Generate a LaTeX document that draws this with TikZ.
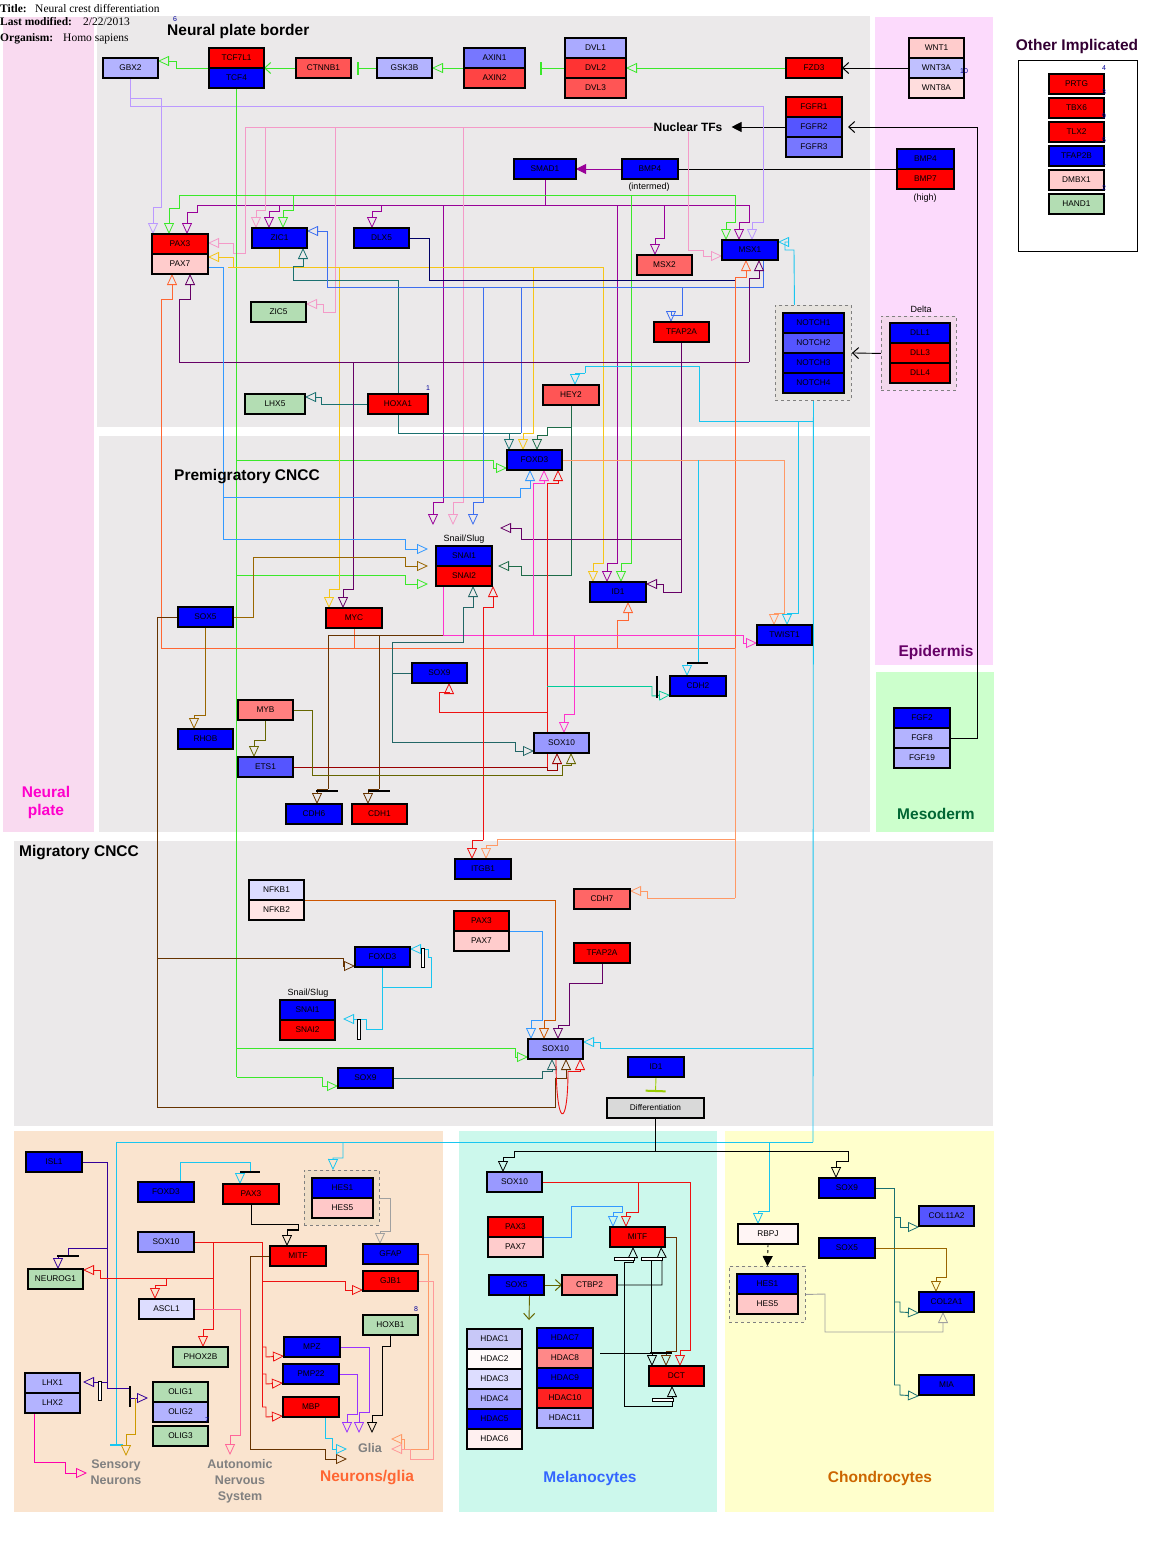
\documentclass[tikz,border=0pt]{standalone}
\usepackage{fontspec}
\setmainfont{Liberation Sans}
\newfontfamily\hdrfont{Liberation Serif}
\usetikzlibrary{arrows.meta}
\pgfdeclarelayer{bg}
\pgfdeclarelayer{lines}
\pgfsetlayers{bg,lines,main}
% fills
\definecolor{fB}{HTML}{0000FF}
\definecolor{fR}{HTML}{FF0000}
\definecolor{fS}{HTML}{FF5555}
\definecolor{fLB}{HTML}{B3B3FF}
\definecolor{fMB}{HTML}{5555FF}
\definecolor{fMBb}{HTML}{7777FF}
\definecolor{fPk}{HTML}{FFCCCC}
\definecolor{fGr}{HTML}{B3DDB3}
\definecolor{fSx}{HTML}{9999FF}
\definecolor{fMsx}{HTML}{FF6666}
\definecolor{fDvl}{HTML}{AAAAFF}
\definecolor{fDvlb}{HTML}{FF3333}
\definecolor{fAx}{HTML}{FF4444}
\definecolor{fWa}{HTML}{C0C0FF}
\definecolor{fWb}{HTML}{FFDDDD}
\definecolor{fMyb}{HTML}{FF7F7F}
\definecolor{fNa}{HTML}{DDDDFF}
\definecolor{fNb}{HTML}{FFE5E5}
\definecolor{fCt}{HTML}{FF8888}
\definecolor{fHes}{HTML}{FFC8C8}
\definecolor{fRb}{HTML}{FFF5F5}
\definecolor{fHa}{HTML}{C8C8F8}
\definecolor{fHb}{HTML}{FFFAFA}
\definecolor{fHd}{HTML}{B0B0FF}
\definecolor{fHf}{HTML}{FFF0F0}
\definecolor{fHj}{HTML}{FF2222}
\definecolor{fDiff}{HTML}{D9D9D9}
% regions
\definecolor{rNP}{HTML}{F9DAF0}
\definecolor{rGray}{HTML}{EBE9EA}
\definecolor{rEpi}{HTML}{FCDAFC}
\definecolor{rMes}{HTML}{CCFFCC}
\definecolor{rPeach}{HTML}{FAE4CF}
\definecolor{rMint}{HTML}{CCF8EC}
\definecolor{rYel}{HTML}{FFFFCC}
\definecolor{gNotch}{HTML}{E6E3DE}
\definecolor{gDelta}{HTML}{F3D7EC}
\definecolor{gHesN}{HTML}{F0DEC6}
\definecolor{gHesC}{HTML}{F8F6CC}
% labels
\definecolor{lNP}{HTML}{FF00CC}
\definecolor{lEpi}{HTML}{660066}
\definecolor{lMes}{HTML}{006633}
\definecolor{lNG}{HTML}{FF6633}
\definecolor{lMel}{HTML}{3366FF}
\definecolor{lCh}{HTML}{CC6600}
\definecolor{lOth}{HTML}{330033}
\definecolor{lGray}{HTML}{808080}
\definecolor{numc}{HTML}{000099}
% lines
\definecolor{kG}{HTML}{3BE82A}
\definecolor{kP}{HTML}{990099}
\definecolor{kDP}{HTML}{660066}
\definecolor{kLav}{HTML}{BB99FF}
\definecolor{kPk}{HTML}{F49AC8}
\definecolor{kY}{HTML}{F5C518}
\definecolor{kT}{HTML}{1A7070}
\definecolor{kDG}{HTML}{1E6B48}
\definecolor{kC}{HTML}{19C6F0}
\definecolor{kB}{HTML}{3D6EF0}
\definecolor{kBb}{HTML}{3399FF}
\definecolor{kNv}{HTML}{000066}
\definecolor{kO}{HTML}{FF6633}
\definecolor{kS}{HTML}{FF9966}
\definecolor{kM}{HTML}{FF33CC}
\definecolor{kR}{HTML}{EE1111}
\definecolor{kDR}{HTML}{990000}
\definecolor{kSG}{HTML}{00CC99}
\definecolor{kDT}{HTML}{226666}
\definecolor{kBr}{HTML}{996600}
\definecolor{kDB}{HTML}{663300}
\definecolor{kOl}{HTML}{666600}
\definecolor{kI}{HTML}{330099}
\definecolor{kGo}{HTML}{CC9900}
\definecolor{kV}{HTML}{9933FF}
\definecolor{kGr}{HTML}{A0A0A0}
\definecolor{kNF}{HTML}{CC5500}
\definecolor{kYG}{HTML}{99CC00}
\definecolor{kPkN}{HTML}{FF6699}
\definecolor{kMg}{HTML}{FF00AA}
\definecolor{kPkG}{HTML}{FF9999}
\tikzset{
  gene/.style={draw=black,line width=1.1pt,minimum width=55pt,minimum height=20pt,inner sep=0pt,outer sep=0pt,anchor=north west,font=\fontsize{8.3}{9}\selectfont},
  ln/.style={line width=0.9pt},
  act/.style={-{Triangle[open,length=11pt,width=10pt,line width=0.8pt]}},
  inh/.style={-{Bar[width=13pt,line width=2pt]}},
  barb/.style={-{Straight Barb[length=6pt,width=11pt,line width=1pt]}},
  fil/.style={-{Triangle[length=10pt,width=10pt]}},
  grp/.style={draw=gray,dashed,line width=0.9pt,anchor=north west,inner sep=0pt},
  rlab/.style={font=\fontsize{15.5}{18}\selectfont\bfseries,inner sep=0pt,align=center},
  clab/.style={font=\fontsize{12.5}{16}\selectfont\bfseries,text=lGray,inner sep=0pt,align=center},
  slab/.style={font=\fontsize{9}{10}\selectfont,inner sep=0pt},
  num/.style={font=\fontsize{7}{7}\selectfont,text=numc,inner sep=0pt},
  hdr/.style={anchor=base west,inner sep=0pt,font=\hdrfont\fontsize{11.5}{12}\selectfont},
}
\newcommand\genebox[6][55]{\node[gene,minimum width=#1pt,fill=#5] (#2) at (#3,#4) {#6};}
\begin{document}
\begin{tikzpicture}[x=1pt,y=-1pt]
\useasboundingbox (0,0) rectangle (1174,1542);
\begin{pgfonlayer}{bg}
\fill[white] (0,0) rectangle (1174,1542);
\fill[rNP] (3,17) rectangle (94,832);
\fill[rGray] (97,16) rectangle (870,427);
\fill[rGray] (99,436) rectangle (870,832);
\fill[rEpi] (875,17) rectangle (993,665);
\fill[rMes] (876,672) rectangle (994,832);
\fill[rGray] (14,841) rectangle (993,1126);
\fill[rPeach] (14,1131) rectangle (443,1512);
\fill[rMint] (459,1131) rectangle (717,1512);
\fill[rYel] (725,1131) rectangle (994,1512);
\draw[line width=1pt,fill=white] (1018,60) rectangle (1137,251);
\end{pgfonlayer}

% header
\node[hdr] (t1) at (0,12) {\textbf{Title:}};
\node[hdr] (t2) at (35,12) {Neural crest differentiation};
\node[hdr] (m1) at (0,25) {\textbf{Last modified:}};
\node[hdr] (m2) at (83,25) {2/22/2013};
\node[hdr] (o1) at (0,41) {\textbf{Organism:}};
\node[hdr] (o2) at (63,41) {Homo sapiens};

% region labels
\node[rlab,anchor=west] (lnpb) at (167,31) {Neural plate border};
\node[rlab,anchor=west] (lpre) at (174,477) {Premigratory CNCC};
\node[rlab,anchor=west] (lmig) at (19,853) {Migratory CNCC};
\node[rlab,text=lOth] (loth) at (1077,46) {Other Implicated};
\node[rlab,text=lNP] (lnp) at (46,802) {Neural\\plate};
\node[rlab,text=lEpi] (lepi) at (936,652) {Epidermis};
\node[rlab,text=lMes] (lmes) at (936,814) {Mesoderm};
\node[rlab,text=lNG] (lng) at (367,1478) {Neurons/glia};
\node[rlab,text=lMel] (lmel) at (590,1478) {Melanocytes};
\node[rlab,text=lCh] (lch) at (880,1478) {Chondrocytes};
\node[clab] (lsens) at (116,1472) {Sensory\\Neurons};
\node[clab] (lauto) at (240,1481) {Autonomic\\Nervous\\System};
\node[clab] (lglia) at (370,1448) {Glia};
\node[font=\fontsize{12}{14}\selectfont\bfseries,inner sep=0pt] (ntf) at (688,127) {Nuclear TFs};
\node[slab] (lint) at (649,187) {(intermed)};
\node[slab] (lhigh) at (925,198) {(high)};
\node[slab] (ldelta) at (921,309) {Delta};
\node[slab] (lsnp) at (464,539) {Snail/Slug};
\node[slab] (lsnm) at (308,993) {Snail/Slug};
\coordinate (gliaTop) at (370,1433);
\coordinate (gliaL) at (347,1454);
\coordinate (gliaR) at (391,1444);
\coordinate (autoTop) at (240,1455);
\coordinate (sensTop) at (116,1456);
\coordinate (sensL) at (87,1473);
\coordinate (hdacpt) at (529,1320);

% groups
\node[grp,fill=gNotch,minimum width=76pt,minimum height=95pt] (notchgrp) at (775,305) {};
\node[grp,fill=gDelta,minimum width=75pt,minimum height=74pt] (deltagrp) at (881,316) {};
\node[grp,fill=gHesN,minimum width=75pt,minimum height=55pt] (hesgrpN) at (304,1170) {};
\node[grp,fill=gHesC,minimum width=76pt,minimum height=56pt] (hesgrpC) at (729,1266) {};

% ---- Neural plate border genes
\genebox{gbx}{103}{58}{fLB}{GBX2}
\genebox{tcfa}{209}{48}{fR}{TCF7L1}
\genebox{tcfb}{209}{68}{fB}{TCF4}
\genebox{ctnnb}{296}{58}{fS}{CTNNB1}
\genebox{gsk}{377}{58}{fLB}{GSK3B}
\genebox[61]{axina}{464}{48}{fMBb}{AXIN1}
\genebox[61]{axinb}{464}{68}{fAx}{AXIN2}
\genebox[61]{dvla}{565}{38}{fDvl}{DVL1}
\genebox[61]{dvlb}{565}{58}{fDvlb}{DVL2}
\genebox[61]{dvlc}{565}{78}{fS}{DVL3}
\genebox[56]{fzd}{786}{58}{fR}{FZD3}
\genebox{wnta}{909}{38}{fPk}{WNT1}
\genebox{wntb}{909}{58}{fWa}{WNT3A}
\genebox{wntc}{909}{78}{fWb}{WNT8A}
\genebox[56]{fgfra}{786}{97}{fR}{FGFR1}
\genebox[56]{fgfrb}{786}{117}{fMB}{FGFR2}
\genebox[56]{fgfrc}{786}{137}{fMBb}{FGFR3}
\genebox[56]{bmp}{622}{159}{fB}{BMP4}
\genebox[62]{smad}{514}{159}{fB}{SMAD1}
\genebox[57]{bmphia}{897}{149}{fB}{BMP4}
\genebox[57]{bmphib}{897}{169}{fR}{BMP7}
\genebox[56]{pax3}{152}{234}{fR}{PAX3}
\genebox[56]{pax7}{152}{254}{fPk}{PAX7}
\genebox{zic1}{252}{228}{fB}{ZIC1}
\genebox{dlx5}{354}{228}{fB}{DLX5}
\genebox{msx2}{637}{255}{fMsx}{MSX2}
\genebox[56]{msx1}{722}{240}{fB}{MSX1}
\genebox{zic5}{251}{302}{fGr}{ZIC5}
\genebox{tfap}{654}{322}{fR}{TFAP2A}
\genebox[61]{notcha}{783}{313}{fB}{NOTCH1}
\genebox[61]{notchb}{783}{333}{fMB}{NOTCH2}
\genebox[61]{notchc}{783}{353}{fB}{NOTCH3}
\genebox[61]{notchd}{783}{373}{fB}{NOTCH4}
\genebox[60]{dlla}{890}{323}{fB}{DLL1}
\genebox[60]{dllb}{890}{343}{fR}{DLL3}
\genebox[60]{dllc}{890}{363}{fR}{DLL4}
\genebox[60]{lhx5}{245}{394}{fGr}{LHX5}
\genebox[60]{hoxa}{368}{394}{fR}{HOXA1}
\genebox[56]{hey2}{543}{385}{fS}{HEY2}
\genebox[56]{fgfa}{894}{708}{fB}{FGF2}
\genebox[56]{fgfb}{894}{728}{fLB}{FGF8}
\genebox[56]{fgfc}{894}{748}{fLB}{FGF19}
% ---- premigratory
\genebox{foxd3}{507}{450}{fB}{FOXD3}
\genebox[56]{snai1}{436}{546}{fB}{SNAI1}
\genebox[56]{snai2}{436}{566}{fR}{SNAI2}
\genebox[56]{id1}{590}{582}{fB}{ID1}
\genebox{twist}{757}{625}{fB}{TWIST1}
\genebox{sox9p}{412}{663}{fB}{SOX9}
\genebox[56]{cdh2}{670}{676}{fB}{CDH2}
\genebox{sox10p}{534}{733}{fSx}{SOX10}
\genebox{sox5}{178}{607}{fB}{SOX5}
\genebox[56]{myc}{326}{608}{fR}{MYC}
\genebox{rhob}{178}{729}{fB}{RHOB}
\genebox{myb}{238}{700}{fMyb}{MYB}
\genebox{ets1}{238}{757}{fMB}{ETS1}
\genebox[56]{cdh6}{286}{804}{fB}{CDH6}
\genebox{cdh1}{352}{804}{fR}{CDH1}
% ---- migratory
\genebox[56]{itgb}{455}{859}{fB}{ITGB1}
\genebox[56]{cdh7}{574}{889}{fMsx}{CDH7}
\genebox{nfkba}{249}{880}{fNa}{NFKB1}
\genebox{nfkbb}{249}{900}{fNb}{NFKB2}
\genebox{paxma}{454}{911}{fR}{PAX3}
\genebox{paxmb}{454}{931}{fPk}{PAX7}
\genebox[56]{tfapm}{574}{943}{fR}{TFAP2A}
\genebox{foxd3m}{355}{947}{fB}{FOXD3}
\genebox{snaima}{280}{1000}{fB}{SNAI1}
\genebox{snaimb}{280}{1020}{fR}{SNAI2}
\genebox{sox10m}{528}{1039}{fSx}{SOX10}
\genebox{sox9m}{338}{1068}{fB}{SOX9}
\genebox[56]{id1m}{628}{1057}{fB}{ID1}
\genebox[97]{diff}{607}{1098}{fDiff}{Differentiation}
% ---- neurons/glia
\genebox[56]{isl1}{26}{1152}{fB}{ISL1}
\genebox[56]{foxd3n}{138}{1182}{fB}{FOXD3}
\genebox[56]{pax3n}{223}{1184}{fR}{PAX3}
\genebox[61]{hesna}{312}{1178}{fB}{HES1}
\genebox[61]{hesnb}{312}{1198}{fHes}{HES5}
\genebox[56]{sox10n}{138}{1232}{fSx}{SOX10}
\genebox[56]{mitfn}{270}{1246}{fR}{MITF}
\genebox{gfap}{363}{1244}{fB}{GFAP}
\genebox{gjb}{363}{1271}{fR}{GJB1}
\genebox{neurog}{28}{1269}{fGr}{NEUROG1}
\genebox{ascl}{139}{1299}{fNa}{ASCL1}
\genebox{hoxb}{363}{1315}{fGr}{HOXB1}
\genebox{phox}{173}{1347}{fGr}{PHOX2B}
\genebox[56]{mpz}{284}{1337}{fB}{MPZ}
\genebox[56]{pmp}{283}{1364}{fB}{PMP22}
\genebox[56]{mbp}{283}{1397}{fR}{MBP}
\genebox{lhxa}{25}{1373}{fLB}{LHX1}
\genebox{lhxb}{25}{1393}{fLB}{LHX2}
\genebox{oliga}{153}{1382}{fGr}{OLIG1}
\genebox{oligb}{153}{1402}{fLB}{OLIG2}
\genebox{oligc}{153}{1426}{fGr}{OLIG3}
% ---- melanocytes
\genebox{sox10mel}{487}{1172}{fSx}{SOX10}
\genebox{paxmela}{488}{1217}{fR}{PAX3}
\genebox{paxmelb}{488}{1237}{fPk}{PAX7}
\genebox{mitfm}{610}{1227}{fR}{MITF}
\genebox{sox5m}{489}{1275}{fB}{SOX5}
\genebox{ctbp}{562}{1275}{fCt}{CTBP2}
\genebox{hdaca}{467}{1329}{fHa}{HDAC1}
\genebox{hdacb}{467}{1349}{fHb}{HDAC2}
\genebox{hdacc}{467}{1369}{fNa}{HDAC3}
\genebox{hdacd}{467}{1389}{fHd}{HDAC4}
\genebox{hdace}{467}{1409}{fB}{HDAC5}
\genebox{hdacf}{467}{1429}{fHf}{HDAC6}
\genebox[56]{hdacg}{537}{1328}{fB}{HDAC7}
\genebox[56]{hdach}{537}{1348}{fCt}{HDAC8}
\genebox[56]{hdaci}{537}{1368}{fB}{HDAC9}
\genebox[56]{hdacj}{537}{1388}{fHj}{HDAC10}
\genebox[56]{hdack}{537}{1408}{fHd}{HDAC11}
\genebox{dct}{649}{1366}{fR}{DCT}
% ---- chondrocytes
\genebox[56]{sox9c}{819}{1178}{fB}{SOX9}
\genebox{col11}{919}{1206}{fMB}{COL11A2}
\genebox[60]{rbpj}{738}{1224}{fRb}{RBPJ}
\genebox[56]{sox5c}{819}{1238}{fB}{SOX5}
\genebox[61]{hesca}{737}{1274}{fB}{HES1}
\genebox[61]{hescb}{737}{1294}{fHes}{HES5}
\genebox{col2}{919}{1292}{fB}{COL2A1}
\genebox{mia}{919}{1375}{fB}{MIA}
% ---- other implicated
\genebox{prtg}{1049}{74}{fR}{PRTG}
\genebox{tbx}{1049}{98}{fR}{TBX6}
\genebox{tlx}{1049}{122}{fR}{TLX2}
\genebox{tfapb}{1049}{146}{fB}{TFAP2B}
\genebox{dmbx}{1049}{170}{fPk}{DMBX1}
\genebox{hand}{1049}{194}{fGr}{HAND1}

% numbers (drawn over the boxes)
\node[num] (n6) at (175,19) {6};
\node[num] (n1) at (428,388) {1};
\node[num] (n10) at (964,71) {10};
\node[num] (n8) at (416,1309) {8};
\node[num] (n7) at (207,1420) {7};
\node[num] (o4) at (1104,68) {4};
\node[num] (o3) at (1104,92) {3};
\node[num] (o9) at (1104,116) {9};
\node[num] (o5) at (1104,140) {5};
\node[num] (o1n) at (1104,163) {1};
\node[num] (o2n) at (1104,188) {2};

\begin{pgfonlayer}{lines}
% Wnt chain
\draw[ln,kG,act] (tcfa.south west) -- (176,68) -- (176,61) -- ([yshift=-3pt]gbx.north east);
\draw[ln,kG,barb] (ctnnb.west) -- (tcfa.south east);
\draw[ln,kG,inh] (gsk.west) -- ([xshift=6pt]ctnnb.east);
\draw[ln,kG,act] (axina.south west) -- (gsk.east);
\draw[ln,kG,inh] (dvlb.west) -- ([xshift=15pt]axina.south east);
\draw[ln,kG,act] (fzd.west) -- (dvlb.east);
\draw[ln,barb] (wntb.west) -- (fzd.east);
\draw[ln,barb] (fgfb.east) -- (977,738) -- (977,127) -- ([xshift=6pt]fgfrb.east);
\draw[ln,fil] (fgfrb.west) -- ([xshift=9pt]ntf.east);
\draw[ln] (bmphia.south west) -- (bmp.east);
\draw[ln,kP,fil] (bmp.west) -- (smad.east);
\draw[ln,barb] (deltagrp.west) -- (notchgrp.east);
% SMAD1
\draw[ln,kP] (smad.south) -- (545,205);
\draw[ln,kP] (197,205) -- (749,205);
\draw[ln,kP,act] (197,205) -- (197,212) -- (187,212) -- ([xshift=35pt]pax3.north west);
\draw[ln,kP,act] (279,205) -- (279,211) -- (269,211) -- ([xshift=17pt]zic1.north west);
\draw[ln,kP,act] (381,205) -- (381,211) -- (372,211) -- ([xshift=18pt]dlx5.north west);
\draw[ln,kP,act] (664,205) -- (664,238) -- (655,238) -- ([xshift=18pt]msx2.north west);
\draw[ln,kP,act] (749,205) -- (749,222) -- (739,222) -- ([xshift=17pt]msx1.north west);
\draw[ln,kP,act] (443,205) -- (443,502) -- (433,502) -- ([shift={(-3pt,21pt)}]snai1.north west);
\draw[ln,kP,act] (617,205) -- (617,563) -- (607,563) -- ([xshift=17pt]id1.north west);
% GBX2
\draw[ln,kLav,act] (gbx.south) -- (130.5,106) -- (763,106) -- (763,222) -- (752,222) -- ([xshift=30pt]msx1.north west);
\draw[ln,kLav,act] (130.5,98) -- (161,98) -- (161,207) -- (153,207) -- ([xshift=1pt]pax3.north west);
% Nuclear TFs
\draw[ln,kPk] (ntf.west) -- (245,127);
\draw[ln,kPk,act] (245,127) -- (245,253) -- (233,253) -- (233,243) -- ([yshift=-9pt]pax3.north east);
\draw[ln,kPk,act] (265,127) -- (265,210) -- (256,210) -- ([xshift=4pt]zic1.north west);
\draw[ln,kPk,act] (335,127) -- (335,312) -- (323,312) -- (323,304) -- ([yshift=-2pt]zic5.north east);
\draw[ln,kPk,act] (463,127) -- (463,502) -- (453,502) -- ([shift={(17pt,21pt)}]snai1.north west);
\draw[ln,kPk,act] (ntf.south) -- (688,250) -- (703,250) -- (703,256) -- ([yshift=4pt]msx1.south west);
% TCF4 green
\draw[ln,kG] (tcfb.south) -- (236.5,1077);
\draw[ln,kG] (179,195) -- (735,195);
\draw[ln,kG,act] (179,195) -- (179,208) -- (169,208) -- ([xshift=17pt]pax3.north west);
\draw[ln,kG,act] (293,195) -- (293,210) -- (283,210) -- ([xshift=31pt]zic1.north west);
\draw[ln,kG,act] (735,195) -- (735,222) -- (726,222) -- ([xshift=4pt]msx1.north west);
\draw[ln,kG,act] (631,195) -- (631,563) -- (621,563) -- ([xshift=31pt]id1.north west);
\draw[ln,kG,act] (236.5,460) -- (493,460) -- (493,468) -- ([yshift=2pt]foxd3.south west);
\draw[ln,kG,act] (236.5,575) -- (405,575) -- (405,584) -- ([shift={(-8pt,2pt)}]snai2.south west);
\draw[ln,kG,act] (236.5,1077) -- (322,1077) -- (322,1086) -- ([yshift=2pt]sox9m.south west);
\draw[ln,kG,act] (236.5,1048) -- (515,1048) -- (515,1057) -- ([yshift=2pt]sox10m.south west);
% ZIC1 yellow
\draw[ln,kY] (zic1.south) -- (279.5,267);
\draw[ln,kY] (228,267) -- (603,267);
\draw[ln,kY,act] (233,267) -- (233,257) -- ([yshift=-3pt]pax7.north east);
\draw[ln,kY,act] (339,267) -- (339,589) -- (329,589) -- ([xshift=3pt]myc.north west);
\draw[ln,kY,act] (533,267) -- (533,433) -- (523,433) -- ([xshift=16pt]foxd3.north west);
\draw[ln,kY,act] (603,267) -- (603,563) -- (593,563) -- ([xshift=3pt]id1.north west);
% HOXA1 teal
\draw[ln,kT,act] (hoxa.west) -- (321,404) -- (321,397) -- ([yshift=-3pt]lhx5.north east);
\draw[ln,kT,act] (hoxa.north) -- (398,280) -- (293,280) -- (293,266) -- (303,266) -- ([xshift=51pt]zic1.south west);
\draw[ln,kT] (hoxa.south) -- (398,433) -- (521,433);
\draw[ln,kT,act] (509,433) -- ([xshift=2pt]foxd3.north west);
% HEY2
\draw[ln,kDG,act] (hey2.south) -- (571,575) -- (521,575) -- (521,566) -- ([xshift=6pt]snai1.south east);
\draw[ln,kDG,act] (571,427) -- (547,427) -- (547,435) -- (537,435) -- ([xshift=30pt]foxd3.north west);
% NOTCH cyan
\draw[ln,kC,act] ([xshift=-19pt]notchgrp.north) -- (794,250) -- (785,250) -- (785,242) -- ([yshift=-2pt]msx1.north east);
\draw[ln,kC] (notchgrp.south) -- (813,1142);
\draw[ln,kC] (813,421) -- (699,421) -- (699,366) -- (585,366) -- (585,373);
\draw[ln,kC,act] (585,373) -- (575,373) -- ([xshift=32pt]hey2.north west);
\draw[ln,kC,act] (798,421) -- (798,613) -- (787,613) -- ([xshift=30pt]twist.north west);
\draw[ln,kC,act] (813,1048) -- (600,1048) -- (600,1042) -- ([yshift=-3pt]sox10m.north east);
\draw[ln,kC] (813,1142) -- (116,1142);
\draw[ln,kC,inh] (116,1142) -- (116,1446);
\draw[ln,kC,act] (343,1142) -- (343,1158) -- (333,1158) -- ([xshift=-9pt]hesgrpN.north);
\draw[ln,kC,act] (769,1142) -- (769,1211) -- (758,1211) -- ([xshift=-10pt]rbpj.north);
% MSX1 blue
\draw[ln,kB,act] ([xshift=-15pt]msx1.south east) -- (763,287) -- (327,287) -- (327,231) -- ([yshift=-3pt]zic1.north east);
\draw[ln,kB,act] (483,287) -- (483,502) -- (473,502) -- ([shift={(37pt,21pt)}]snai1.north west);
\draw[ln,kB] (521,287) -- (521,433);
\draw[ln,kB,act] (682,287) -- (682,315) -- (671,315) -- ([xshift=17pt]tfap.north west);
% DLX5 navy
\draw[ln,kNv] (dlx5.east) -- (429,238) -- (429,280) -- (735,280);
% MYC orange
\draw[ln,kO] (myc.south) -- (354,648);
\draw[ln,kO] (161,648) -- (735,648);
\draw[ln,kO,act] (161,648) -- (161,299) -- (172,299) -- ([xshift=20pt]pax7.south west);
\draw[ln,kO,act] (735,648) -- (735,277) -- (746,277) -- ([xshift=24pt]msx1.south west);
\draw[ln,kO,act] (617,648) -- (617,620) -- (628,620) -- ([xshift=38pt]id1.south west);
% dark purple
\draw[ln,kDP] (179,362) -- (749,362);
\draw[ln,kDP,act] (179,362) -- (179,299) -- (190,299) -- ([xshift=38pt]pax7.south west);
\draw[ln,kDP,act] (353,362) -- (353,589) -- (343,589) -- ([xshift=17pt]myc.north west);
\draw[ln,kDP,act] (749,362) -- (749,278) -- (759,278) -- ([xshift=37pt]msx1.south west);
% TFAP2A
\draw[ln,kDP,act] (tfap.south) -- (681.5,592) -- (663,592) -- (663,584) -- ([yshift=-2pt]id1.north east);
\draw[ln,kDP,act] (681.5,539) -- (521,539) -- (521,528) -- ([shift={(8pt,18pt)}]snai1.north east);
% FOXD3 premig
\draw[ln,kS,act] (foxd3.east) -- (784,460) -- (784,613) -- (774,613) -- ([xshift=17pt]twist.north west);
\draw[ln,kC] (698,460) -- (698,663);
\draw[ln,kC,act] (698,663) -- (687,663) -- ([xshift=17pt]cdh2.north west);
\draw[line width=2pt] (687,663) -- (708,663);
% SNAI magenta
\draw[ln,kM,act] ([xshift=7pt]snai2.south west) -- (443,635) -- (743,635) -- (743,643) -- ([yshift=2pt]twist.south west);
\draw[ln,kM,act] (533,635) -- (533,483) -- (544,483) -- ([xshift=37pt]foxd3.south west);
\draw[ln,kM,act] (574,635) -- (574,714) -- (564,714) -- ([xshift=30pt]sox10p.north west);
% SNAI brown to cadherins
\draw[ln,kDB] (443,635) -- (328,635) -- (328,789);
\draw[ln,kDB] (379,635) -- (379,789);
\draw[ln,kDB,act] (328,789) -- (317,789) -- ([xshift=31pt]cdh6.north west);
\draw[ln,kDB,act] (379,789) -- (368,789) -- ([xshift=16pt]cdh1.north west);
\draw[line width=2pt] (316,791) -- (338,791);
\draw[line width=2pt] (368,791) -- (390,791);
% SOX5
\draw[ln,kBr,act] (sox5.east) -- (253,617) -- (253,557) -- (405,557) -- (405,566) -- ([xshift=-8pt]snai1.south west);
\draw[ln,kBr,act] (sox5.south) -- (205.5,715) -- (194,715) -- ([xshift=16pt]rhob.north west);
\draw[ln,kDB] (sox5.west) -- (157,617) -- (157,1107) -- (555,1107) -- (555,1078);
\draw[ln,kDB,act] (555,1078) -- (566,1078) -- ([xshift=38pt]sox10m.south west);
\draw[ln,kDB,act] (157,958) -- (343,958) -- (343,966) -- ([yshift=1pt]foxd3m.south west);
% PAX7 blue
\draw[ln,kBb] ([yshift=-3pt]pax7.east) -- (223,267) -- (223,539) -- (405,539) -- (405,549);
\draw[ln,kBb,act] (405,549) -- ([shift={(-8pt,-3pt)}]snai1.north west);
\draw[ln,kBb,act] (223,497) -- (520,497) -- (520,488) -- (530,488) -- ([xshift=23pt]foxd3.south west);
% SOX9 premig
\draw[ln,kDT] (sox9p.west) -- (392,673);
\draw[ln,kDT,act] (392,642) -- (392,742) -- (515,742) -- (515,751) -- ([yshift=2pt]sox10p.south west);
\draw[ln,kDT,act] (392,642) -- (463,642) -- (463,607) -- (473,607) -- ([xshift=37pt]snai2.south west);
% ETS1 / red
\draw[ln,kDR] (ets1.east) -- (547,767);
\draw[ln,kDR,act] (547,767) -- (547,770) -- (557,770) -- ([xshift=23pt]sox10p.south west);
\draw[ln,kR,act] (547,767) -- (547,483) -- (558,483) -- ([xshift=51pt]foxd3.south west);
\draw[ln,kR,act] (547,712) -- (439,712) -- (439,692) -- (449,692) -- ([xshift=37pt]sox9p.south west);
\draw[ln,kR,act] (483,840) -- (483,607) -- (493,607) -- ([xshift=57pt]snai2.south west);
\draw[ln,kR,act] (483,840) -- (472,840) -- ([xshift=17pt]itgb.north west);
% MYB
\draw[ln,kOl,act] (myb.east) -- (312,710) -- (312,775) -- (562,775) -- (562,765) -- (571,765) -- ([xshift=37pt]sox10p.south west);
\draw[ln,kOl,act] (myb.south) -- (265.5,740) -- (254,740) -- ([xshift=16pt]ets1.north west);
% sea green to CDH2
\draw[ln,kSG] (547,686) -- (652,686);
\draw[ln,kSG,act] (652,686) -- (652,696) -- ([yshift=1pt]cdh2.south west);
\draw[line width=2pt] (657,676) -- (657,698);
% salmon to migratory
\draw[ln,kS] (735,648) -- (735,898);
\draw[ln,kS,act] (735,839) -- (497,839) -- (497,845) -- (486,845) -- ([xshift=31pt]itgb.north west);
\draw[ln,kS,act] (735,898) -- (647,898) -- (647,891) -- ([yshift=-2pt]cdh7.north east);
% migratory
\draw[ln,kNF,act] (nfkba.south east) -- (555,900) -- (555,1020) -- (544,1020) -- ([xshift=16pt]sox10m.north west);
\draw[ln,kBb,act] (paxma.south east) -- (542,931) -- (542,1020) -- (531,1020) -- ([xshift=3pt]sox10m.north west);
\draw[ln,kDP,act] (tfapm.south) -- (602,983) -- (569,983) -- (569,1025) -- (558,1025) -- ([xshift=30pt]sox10m.north west);
\draw[ln,kC,act] (foxd3m.south) -- (382.5,1029) -- (366,1029) -- (366,1019) -- ([shift={(8pt,-19pt)}]snaima.north east);
\draw[black,fill=white,line width=0.7pt] (357.5,1019) rectangle (360.5,1039);
\draw[ln,kC,act] (382.5,987) -- (431,987) -- (431,957) -- (428,957) -- (428,949) -- ([yshift=-2pt]foxd3m.north east);
\draw[black,fill=white,line width=0.7pt] (421.5,948) rectangle (424.5,967);
\draw[ln,kDT,act] (sox9m.east) -- (542,1078) -- (542,1071) -- (552,1071) -- ([xshift=24pt]sox10m.south west);
\draw[ln,kR] (556,1059) .. controls (556,1130) and (568,1130) .. (568,1071);
\draw[ln,kR,act] (568,1071) -- (580,1071) -- ([xshift=52pt]sox10m.south west);
\draw[ln,kYG,-{Bar[width=20pt,line width=2pt]}] (id1m.south) -- ([yshift=6pt]diff.north);
\draw[ln] (diff.south) -- (655.5,1151);
\draw[ln] (514,1151) -- (848,1151);
\draw[ln,act] (514,1151) -- (514,1157) -- (503,1157) -- ([xshift=16pt]sox10mel.north west);
\draw[ln,act] (848,1151) -- (848,1161) -- (836,1161) -- ([xshift=17pt]sox9c.north west);
% neurons/glia
\draw[ln,kI] (isl1.east) -- (107,1162) -- (107,1388) -- (130,1388);
\draw[ln,kI,act] (107,1248) -- (68,1248) -- (68,1256) -- (58,1256) -- ([xshift=30pt]neurog.north west);
\draw[line width=2pt] (57,1256) -- (79,1256);
\draw[ln,kI,act] (107,1382) -- ([shift={(3pt,-9pt)}]lhxa.north east);
\draw[black,fill=white,line width=0.7pt] (98.5,1381) rectangle (101.5,1400);
\draw[line width=2pt] (130,1386) -- (130,1407);
\draw[ln,kI,act] (130,1398) -- ([shift={(-5pt,-16pt)}]oliga.north west);
\draw[ln,kGo,act] (135,1398) -- (135,1434) -- (126,1434) -- ([xshift=10pt]sensTop);
\draw[ln,kC] ([xshift=14pt]foxd3n.north) -- (180,1162) -- (250,1162) -- (250,1172);
\draw[ln,kC,act] (250,1172) -- (240,1172) -- ([xshift=17pt]pax3n.north west);
\draw[line width=2pt] (240,1172) -- (260,1172);
\draw[ln] (pax3n.south) -- (251,1224) -- (298,1224) -- (298,1230);
\draw[ln,act] (298,1230) -- (287,1230) -- ([xshift=17pt]mitfn.north west);
\draw[line width=2pt] (287,1230) -- (299,1230);
\draw[ln,kGr,act] (hesna.south east) -- (390,1198) -- (390,1231) -- (380,1231) -- ([xshift=17pt]gfap.north west);
\draw[ln,kR] (sox10n.east) -- (262,1242) -- (262,1407);
\draw[ln,kR,act] (213,1242) -- (213,1329) -- (203,1329) -- ([xshift=30pt]phox.north west);
\draw[ln,kR,act] (213,1278) -- (100,1278) -- (100,1270) -- ([yshift=-1pt]neurog.north east);
\draw[ln,kR,act] (166,1278) -- (166,1285) -- (155,1285) -- ([xshift=16pt]ascl.north west);
\draw[ln,kR,act] (262,1281) -- (345,1281) -- (345,1290) -- ([yshift=1pt]gjb.south west);
\draw[ln,kR,act] (262,1347) -- (266,1347) -- (266,1357) -- ([yshift=1pt]mpz.south west);
\draw[ln,kR,act] (262,1374) -- (266,1374) -- (266,1384) -- ([yshift=1pt]pmp.south west);
\draw[ln,kR,act] (262,1407) -- (266,1407) -- (266,1417) -- ([yshift=1pt]mbp.south west);
\draw[ln,kDB,act] (mitfn.west) -- (250,1256) -- (250,1449) -- (325,1449) -- (325,1459) -- ([yshift=-5pt]gliaL);
\draw[ln,kC,act] ([xshift=14pt]mbp.south) -- (325,1438) -- (332,1438) -- (332,1449) -- ([yshift=5pt]gliaL);
\draw[ln,kV,act] (mpz.east) -- (369,1347) -- (369,1412) -- (359,1412) -- ([xshift=-11pt]gliaTop);
\draw[ln,kV,act] (pmp.east) -- (357,1374) -- (357,1414) -- (347,1414) -- ([xshift=-23pt]gliaTop);
\draw[ln,act] (hoxb.south) -- (390.5,1346) -- (382,1346) -- (382,1415) -- (372,1415) -- ([xshift=2pt]gliaTop);
\draw[ln,kS,act] (gfap.east) -- (428,1254) -- (428,1449) -- (404,1449) -- (404,1439) -- ([yshift=5pt]gliaR);
\draw[ln,kPkG,act] (gjb.east) -- (433,1281) -- (433,1459) -- (410,1459) -- (410,1449) -- ([yshift=-5pt]gliaR);
\draw[ln,kPkN,act] (ascl.east) -- (240,1309) -- (240,1435) -- (230,1435) -- ([xshift=-10pt]autoTop);
\draw[ln,kMg,act] ([xshift=9pt]lhxb.south west) -- (34,1462) -- (65,1462) -- (65,1473) -- (sensL);
% melanocytes
\draw[ln,kR,act] (sox10mel.east) -- (690,1182) -- (690,1350) -- (680,1350) -- ([xshift=31pt]dct.north west);
\draw[ln,kR,act] (638,1182) -- (638,1212) -- (626,1212) -- ([xshift=16pt]mitfm.north west);
\draw[ln,kBb,act] (paxmela.south east) -- (571,1237) -- (571,1206) -- (622,1206) -- (622,1212) -- (613,1212) -- ([xshift=3pt]mitfm.north west);
\draw[ln,kDB,act] (mitfm.east) -- (676,1237) -- (676,1351) -- (666,1351) -- ([xshift=17pt]dct.north west);
\draw[ln,kOl,barb] (sox5m.east) -- (ctbp.west);
\draw[ln,kOl,barb] ([xshift=13pt]sox5m.south) -- (hdacpt);
\draw[ln,act] (ctbp.east) -- (662,1285) -- (662,1262) -- ([xshift=51pt]mitfm.south west);
\draw[ln,act] (624,1285) -- (624,1262) -- (633,1262) -- ([xshift=23pt]mitfm.south west);
\draw[black,fill=white,line width=0.7pt] (614,1257) rectangle (634,1260);
\draw[black,fill=white,line width=0.7pt] (641,1257) rectangle (662,1260);
\draw[ln] (624,1285) -- (624,1406) -- (672,1406) -- (672,1400);
\draw[ln,act] (672,1400) -- ([xshift=23pt]dct.south west);
\draw[black,fill=white,line width=0.7pt] (652,1398) rectangle (673,1401);
\draw[ln] ([shift={(7pt,-5pt)}]hdach.north east) -- (672,1353);
\draw[ln] (651,1260) -- (651,1353);
\draw[ln,act] (652,1353) -- ([xshift=3pt]dct.north west);
\draw[line width=2pt] (650,1353) -- (672,1353);
% chondrocytes
\draw[ln,dashed,fil] (rbpj.south) -- (hesgrpC.north);
\draw[ln,kT] (sox9c.east) -- (894,1188) -- (894,1385);
\draw[ln,kT,act] (894,1217) -- (900,1217) -- (900,1227) -- ([yshift=-1pt]col11.south west);
\draw[ln,kT,act] (894,1302) -- (900,1302) -- (900,1312) -- ([yshift=-1pt]col2.south west);
\draw[ln,kT,act] (894,1385) -- (900,1385) -- (900,1395) -- ([yshift=-1pt]mia.south west);
\draw[ln,kBr,act] (sox5c.east) -- (946,1248) -- (946,1277) -- (936,1277) -- ([xshift=17pt]col2.north west);
\draw[ln,kGr,act] (hesgrpC.east) -- (825,1294) -- (825,1332) -- (943,1332) -- ([xshift=24pt]col2.south west);
\end{pgfonlayer}
\end{tikzpicture}
\end{document}
